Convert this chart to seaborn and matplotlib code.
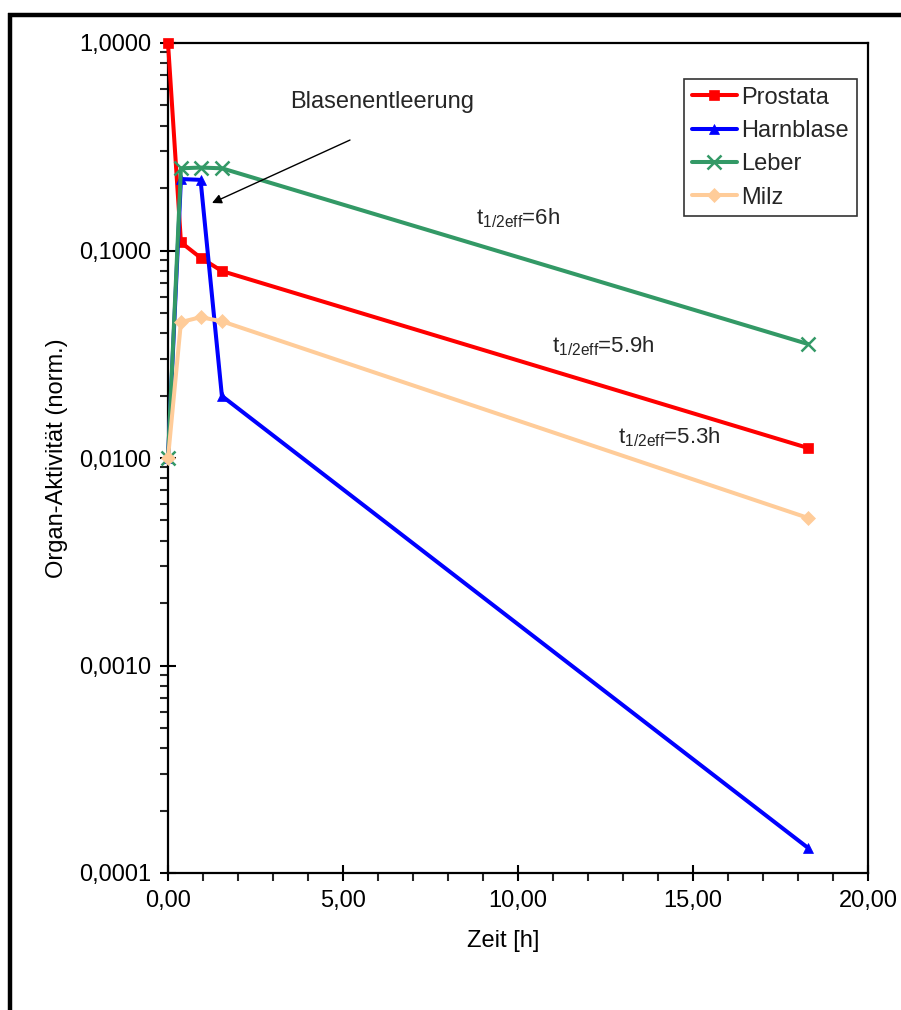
import numpy as np
import pandas as pd
import matplotlib
matplotlib.use("Agg")
import matplotlib.pyplot as plt
import seaborn as sns
from matplotlib.lines import Line2D
from matplotlib.ticker import FuncFormatter, LogLocator, MultipleLocator

# ---- data ----
zeit = [0.0, 0.37, 0.93, 1.54, 18.29]
prostata = [1.0, 0.1095, 0.0923, 0.0796, 0.01117]
harnblase = [0.01, 0.221, 0.219, 0.0199, 0.000132]
leber = [0.01, 0.249, 0.251, 0.249, 0.0354]
milz = [0.01, 0.0452, 0.0477, 0.0456, 0.00514]
serien = ["Prostata", "Harnblase", "Leber", "Milz"]
farben = ["#FF0000", "#0000FF", "#339966", "#FFCC99"]
marker = ["s", "^", "x", "D"]
msize = [7, 7, 10, 7.5]
y_ticks = [0.0001, 0.001, 0.01, 0.1, 1.0]
x_ticks = [0, 5, 10, 15, 20]

sns.set_theme(style="white")
plt.rcParams["font.family"] = ["Liberation Sans", "DejaVu Sans"]
plt.rcParams["mathtext.fontset"] = "custom"
plt.rcParams["mathtext.rm"] = "Liberation Sans"

FS = 17

fig = plt.figure(figsize=(9.01, 10.10), dpi=100)
ax = fig.add_axes([168/901, 1-873/1010, 700/901, 830/1010])

werte = [prostata, harnblase, leber, milz]
df = pd.DataFrame({
    "Zeit": np.tile(zeit, 4),
    "Wert": np.concatenate(werte),
    "Organ": np.repeat(serien, len(zeit)),
})
for name, col, mk, ms in zip(serien, farben, marker, msize):
    sub = df[df["Organ"] == name]
    sns.lineplot(data=sub, x="Zeit", y="Wert", ax=ax, color=col, lw=2.9,
                 marker=mk, markersize=ms, markeredgecolor=col,
                 markeredgewidth=1.8 if mk == "x" else 0.5,
                 label=name, sort=False, estimator=None, clip_on=False)

ax.set_yscale("log")
ax.set_ylim(0.0001, 1.0)
ax.set_xlim(0, 20)
ax.set_yticks(y_ticks)
ax.yaxis.set_minor_locator(LogLocator(base=10, subs=np.arange(2, 10)))
ax.yaxis.set_major_formatter(FuncFormatter(lambda v, p: f"{v:.4f}".replace(".", ",")))
ax.yaxis.set_minor_formatter(FuncFormatter(lambda v, p: ""))
ax.set_xticks(x_ticks)
ax.xaxis.set_minor_locator(MultipleLocator(1))
ax.xaxis.set_major_formatter(FuncFormatter(lambda v, p: f"{v:.2f}".replace(".", ",")))

for s in ax.spines.values():
    s.set_color("black")
    s.set_linewidth(1.6)
    s.set_zorder(1)
ax.tick_params(which="major", direction="inout", length=12, width=1.5,
               labelsize=FS, colors="black", pad=6,
               bottom=True, left=True)
ax.tick_params(which="minor", direction="out", length=6, width=1.5,
               bottom=True, left=True)

ax.set_xlabel("Zeit [h]", fontsize=FS, color="black")
ax.set_ylabel("Organ-Aktivität (norm.)", fontsize=FS, color="black")
ax.xaxis.set_label_coords(0.479, -0.069)
ax.yaxis.set_label_coords(-0.143, 0.5)

leg = ax.legend(loc="upper right", bbox_to_anchor=(0.984, 0.9566),
                borderaxespad=0, fontsize=FS, frameon=True, fancybox=False,
                handlelength=1.9, handletextpad=0.2, labelspacing=0.48,
                borderpad=0.32)
leg.get_frame().set_edgecolor("black")
leg.get_frame().set_linewidth(1.2)

ax.text(6.12, 0.52, "Blasenentleerung", ha="center", va="center", fontsize=FS)
ax.annotate("", xy=(1.257, 0.1694), xytext=(5.2, 0.3407),
            arrowprops=dict(arrowstyle="-|>", color="black", lw=1.0,
                            mutation_scale=14, shrinkA=0, shrinkB=0))

ax.text(8.8, 0.1434, r"$\mathregular{t_{1/2eff}}$=6h", fontsize=16, ha="left", va="center")
ax.text(10.96, 0.0347, r"$\mathregular{t_{1/2eff}}$=5.9h", fontsize=16, ha="left", va="center")
ax.text(12.86, 0.01262, r"$\mathregular{t_{1/2eff}}$=5.3h", fontsize=16, ha="left", va="center")

# outer border (top and left)
fig.add_artist(Line2D([8/901, 1.0], [1-14.5/1010, 1-14.5/1010], color="black", lw=3.2,
                      transform=fig.transFigure, solid_capstyle="butt"))
fig.add_artist(Line2D([10.3/901, 10.3/901], [0.0, 1-12.5/1010], color="black", lw=3.2,
                      transform=fig.transFigure, solid_capstyle="butt"))

fig.savefig("out.png", dpi=100)
